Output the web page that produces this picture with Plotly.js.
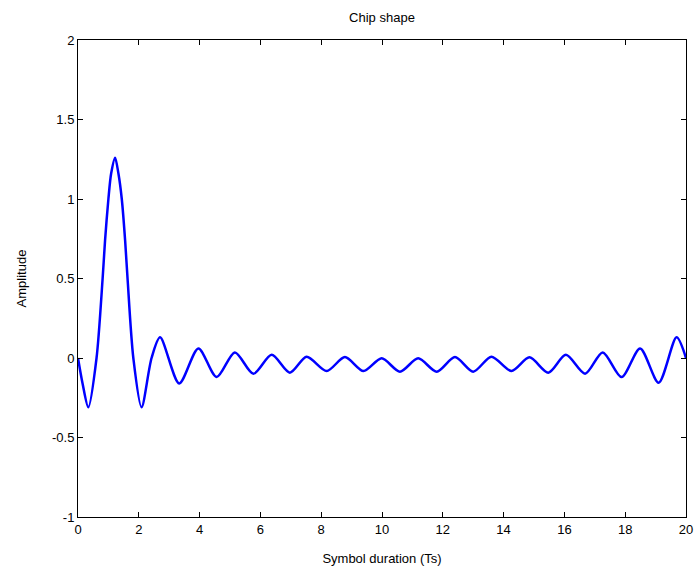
<!DOCTYPE html>
<html>
<head>
<meta charset="utf-8">
<script src="https://cdn.plot.ly/plotly-3.0.1.min.js"></script>
<style>html,body{margin:0;padding:0;background:#fff;}#chart{width:695px;height:574px;}</style>
</head>
<body>
<div id="chart"></div>
<script>
// Symbol duration (Ts) readings of the curve
var timeTs = [0, 0.15, 0.34, 0.61, 0.81, 0.89, 1.0, 1.09, 1.22, 1.33, 1.44, 1.55, 1.63, 1.82,
  2.09, 2.42, 2.7, 3.33, 3.96, 4.56, 5.16, 5.77, 6.37, 6.97, 7.52, 8.18, 8.78, 9.39, 9.99, 10.59,
  11.19, 11.8, 12.4, 13.0, 13.6, 14.26, 14.85, 15.47, 16.05, 16.68, 17.26, 17.88,
  18.49, 19.1, 19.69, 20];
// Amplitude readings
var amplitude = [0, -0.16, -0.31, 0.0, 0.5, 0.74, 1.0, 1.16, 1.26, 1.16, 1.0, 0.74, 0.5, 0.0,
  -0.31, 0.0, 0.13, -0.16, 0.06, -0.12, 0.035, -0.099, 0.02, -0.092, 0.008, -0.082, 0.006, -0.082, -0.002, -0.086,
  -0.002, -0.086, 0.006, -0.086, 0.008, -0.082, 0.004, -0.092, 0.02, -0.099, 0.035, -0.12,
  0.06, -0.155, 0.13, 0.0];
var xTicks = [0, 2, 4, 6, 8, 10, 12, 14, 16, 18, 20];
var yTicks = [-1, -0.5, 0, 0.5, 1, 1.5, 2];
var yTickText = ["-1", "-0.5", "0", "0.5", "1", "1.5", "2"];

var fnt = {family: "Liberation Sans, Arial, sans-serif", size: 13, color: "#000"};
var trace = {
  x: timeTs, y: amplitude, type: "scatter", mode: "lines",
  line: {color: "#0000ff", width: 2.5, shape: "spline", smoothing: 0.8},
  hoverinfo: "skip"
};
var axisCommon = {
  showgrid: false, zeroline: false, showline: true, linecolor: "#000", linewidth: 1,
  mirror: "ticks", ticks: "inside", ticklen: 5, tickcolor: "#000", tickfont: fnt
};
var layout = {
  width: 695, height: 574,
  margin: {l: 78, r: 9, t: 40, b: 57},
  paper_bgcolor: "#fff", plot_bgcolor: "#fff",
  showlegend: false,
  title: {text: "Chip shape", font: fnt, x: 0.5, xref: "paper", xanchor: "center",
          y: 1 - 17/574, yref: "container", yanchor: "middle"},
  xaxis: Object.assign({}, axisCommon, {
    range: [0, 20], tickvals: xTicks, ticktext: xTicks.map(String),
    title: {text: "Symbol duration (Ts)", font: fnt, standoff: 18}
  }),
  yaxis: Object.assign({}, axisCommon, {
    range: [-1, 2], tickvals: yTicks, ticktext: yTickText,
    title: {text: "Amplitude", font: fnt, standoff: 22}
  })
};
Plotly.newPlot("chart", [trace], layout, {displayModeBar: false, staticPlot: true});
</script>
</body>
</html>
